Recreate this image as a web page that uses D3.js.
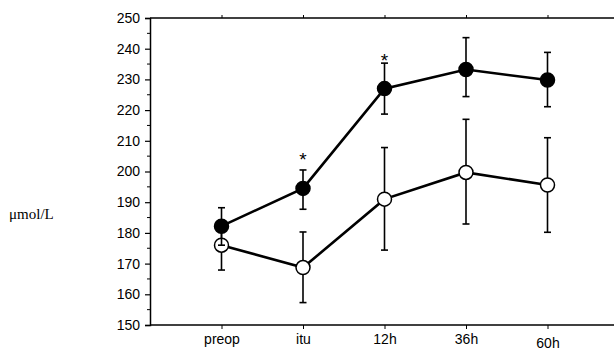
<!DOCTYPE html>
<html><head><meta charset="utf-8">
<script src="https://cdn.jsdelivr.net/npm/d3@7"></script>
<style>body{margin:0;background:#fff}svg{display:block}</style>
</head><body>
<svg id="c" width="614" height="351"></svg>
<script>
const categories = ["preop","itu","12h","36h","60h"];
const filledMean = [182.2, 194.5, 227.0, 233.2, 229.8];
const filledUp   = [188.2, 200.5, 235.3, 243.6, 238.8];
const filledLow  = [176.0, 187.7, 218.7, 224.4, 221.1];
const openMean = [176.0, 168.7, 191.0, 199.7, 195.6];
const openUp   = [184.0, 180.3, 207.8, 217.0, 211.0];
const openLow  = [167.9, 157.3, 174.4, 182.9, 180.2];
const starCats = ["itu","12h"];
const starVals = [205.5, 237.5];
const yTicks = [150,160,170,180,190,200,210,220,230,240,250];
const yLabel = "μmol/L";

const svg = d3.select("#c");
const L = 150, R = 614, T = 18, B = 325;
const x = d3.scalePoint().domain(["", ...categories, " "]).range([140, 629]);
const y = d3.scaleLinear().domain([150,250]).range([B, T]);

svg.append("line").attr("x1",L).attr("x2",R).attr("y1",T).attr("y2",T).attr("stroke","#000").attr("stroke-width",1.5);
svg.append("line").attr("x1",L).attr("x2",R).attr("y1",B).attr("y2",B).attr("stroke","#000").attr("stroke-width",1.5);

const ya = svg.append("g").attr("transform",`translate(${L},0)`)
  .call(d3.axisLeft(y).tickValues(yTicks).tickSize(5).tickPadding(5).tickFormat(d3.format("d")));
ya.select(".domain").attr("stroke-width",1.5);
ya.selectAll(".tick line").attr("stroke-width",1.2);
ya.selectAll("text").attr("font-family","Liberation Sans, Arial, sans-serif").attr("font-size",14).attr("fill","#000");
const minor = d3.range(155,250,10);
svg.append("g").selectAll("line").data(minor).join("line")
  .attr("x1",L-3).attr("x2",L+1).attr("y1",d=>y(d)).attr("y2",d=>y(d)).attr("stroke","#000").attr("stroke-width",1);

const xb = svg.append("g").attr("transform",`translate(0,${B})`)
  .call(d3.axisBottom(x).tickValues(categories).tickSize(4).tickPadding(5));
xb.select(".domain").remove();
xb.selectAll("text").attr("font-family","Liberation Sans, Arial, sans-serif").attr("font-size",14).attr("fill","#000")
  .attr("dy", d=> d==="60h" ? "1.0em" : "0.71em");
const xt = svg.append("g").attr("transform",`translate(0,${T})`)
  .call(d3.axisTop(x).tickValues(categories).tickSize(3).tickFormat(""));
xt.select(".domain").remove();

svg.append("text").attr("x",9).attr("y",219).attr("font-family","Liberation Serif, Times New Roman, serif")
  .attr("font-size",15).text(yLabel);

function series(mean, up, low, fill){
  const g = svg.append("g");
  const idx = d3.range(categories.length);
  idx.forEach(i=>{
    const cx = x(categories[i]);
    g.append("line").attr("x1",cx).attr("x2",cx).attr("y1",y(up[i])).attr("y2",y(low[i])).attr("stroke","#000").attr("stroke-width",1.6);
    [up[i],low[i]].forEach(v=>g.append("line").attr("x1",cx-3.5).attr("x2",cx+3.5).attr("y1",y(v)).attr("y2",y(v)).attr("stroke","#000").attr("stroke-width",1.6));
  });
  g.append("path").datum(idx).attr("fill","none").attr("stroke","#000").attr("stroke-width",2.6)
    .attr("d", d3.line().x(i=>x(categories[i])).y(i=>y(mean[i])));
  g.selectAll("circle").data(idx).join("circle")
    .attr("cx",i=>x(categories[i])).attr("cy",i=>y(mean[i])).attr("r",7)
    .attr("fill",fill).attr("stroke","#000").attr("stroke-width",1.5);
}
series(openMean, openUp, openLow, "#fff");
series(filledMean, filledUp, filledLow, "#000");

svg.append("g").selectAll("text").data(starCats).join("text")
  .attr("x",d=>x(d)).attr("y",(d,i)=>y(starVals[i])+11).attr("text-anchor","middle")
  .attr("font-family","Liberation Sans, Arial, sans-serif").attr("font-size",19).text("*");
</script>
</body></html>
